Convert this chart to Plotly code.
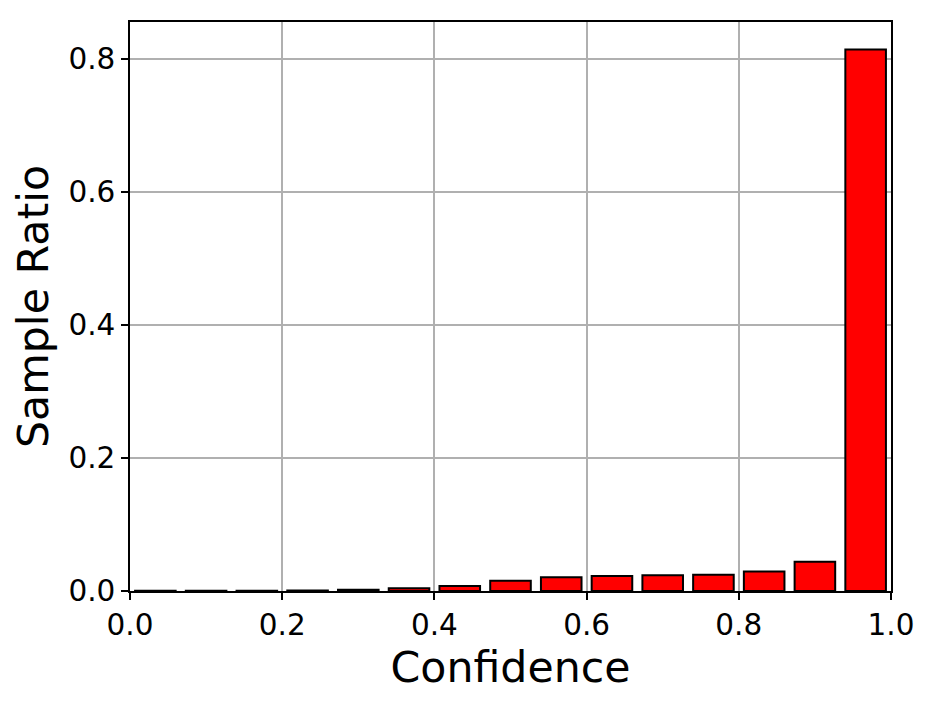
import plotly.graph_objects as go

n_bins = 15
bin_centers = [(i + 0.5) / n_bins for i in range(n_bins)]
sample_ratio = [0.0002, 0.0003, 0.0004, 0.0008, 0.0018, 0.004, 0.0075,
                0.0155, 0.0205, 0.0225, 0.0235, 0.0245, 0.0295, 0.0440, 0.814]
x_ticks = [0.0, 0.2, 0.4, 0.6, 0.8, 1.0]
y_ticks = [0.0, 0.2, 0.4, 0.6, 0.8]

fig = go.Figure(go.Bar(
    x=bin_centers, y=sample_ratio, width=0.8 / n_bins,
    marker=dict(color="red", line=dict(color="black", width=2)),
))

font = "DejaVu Sans"
fig.update_layout(
    width=934, height=702,
    margin=dict(l=122, r=51, t=14, b=119),
    plot_bgcolor="white", paper_bgcolor="white",
    showlegend=False,
    font=dict(family=font, color="black"),
)
axis_common = dict(
    showgrid=True, gridcolor="#b0b0b0", gridwidth=1.5,
    showline=True, linecolor="black", linewidth=1.5, mirror=True,
    ticks="outside", ticklen=7, tickwidth=1.5, tickcolor="black",
    tickfont=dict(size=29.5, family=font), zeroline=False,
    layer="above traces", automargin=False,
)
fig.update_xaxes(range=[0, 1], tickvals=x_ticks, ticktext=[f"{v:.1f}" for v in x_ticks],
                 title=dict(text="Confidence", font=dict(size=42.7, family=font), standoff=6),
                 **axis_common)
fig.update_yaxes(range=[0, 0.8555], tickvals=y_ticks, ticktext=[f"{v:.1f}" for v in y_ticks],
                 title=dict(text="Sample Ratio", font=dict(size=42.7, family=font), standoff=12),
                 **axis_common)

fig.write_html("out.html")
